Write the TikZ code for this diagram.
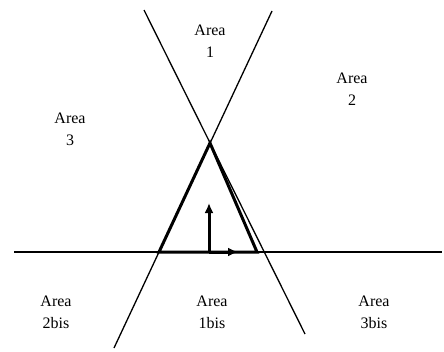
\documentclass[tikz,border=0pt]{standalone}
\usepackage{fontspec}
\setmainfont{Liberation Serif}
\usetikzlibrary{arrows.meta}
\begin{document}
\begin{tikzpicture}[x=1pt, y=-1pt,
    area/.style={align=center, inner sep=0pt,
                 font=\fontsize{16}{22}\selectfont},
    bound/.style={line width=1.3pt},
    tri/.style={line width=3pt, line join=miter},
    arr/.style={-{Latex[length=10pt, width=9pt]}, line width=3pt},
  ]
    \useasboundingbox (0,0) rectangle (444,351);

    % Dreieck
    \coordinate (apex) at (210,143);
    \coordinate (bl)   at (159,252);
    \coordinate (br)   at (257,252);

    % Grenzlinien
    \coordinate (l1a) at (144,10);
    \coordinate (l1b) at (305,334);
    \coordinate (l2a) at (272,11);
    \coordinate (l2b) at (114,348);
    \coordinate (hl)  at (14,252);
    \coordinate (hr)  at (442,252);

    \draw[bound] (l1a) -- (l1b);
    \draw[bound] (l2a) -- (l2b);
    \draw[bound] (hl) -- (hr);

    \draw[tri] (apex) -- (bl) -- (br) -- cycle;

    % Achsen
    \coordinate (o)  at (209,252);
    \coordinate (ex) at (238,252);
    \coordinate (ey) at (209,203);
    \draw[arr] (o) -- (ex);
    \draw[arr] (o) -- (ey);

    % Bereiche
    \node[area] (a1)  at (210,41)  {Area\\1};
    \node[area] (a2)  at (352,89)  {Area\\2};
    \node[area] (a3)  at (70,129)  {Area\\3};
    \node[area] (a2b) at (56,312)  {Area\\2bis};
    \node[area] (a1b) at (212,312) {Area\\1bis};
    \node[area] (a3b) at (374,312) {Area\\3bis};
  \end{tikzpicture}
\end{document}
